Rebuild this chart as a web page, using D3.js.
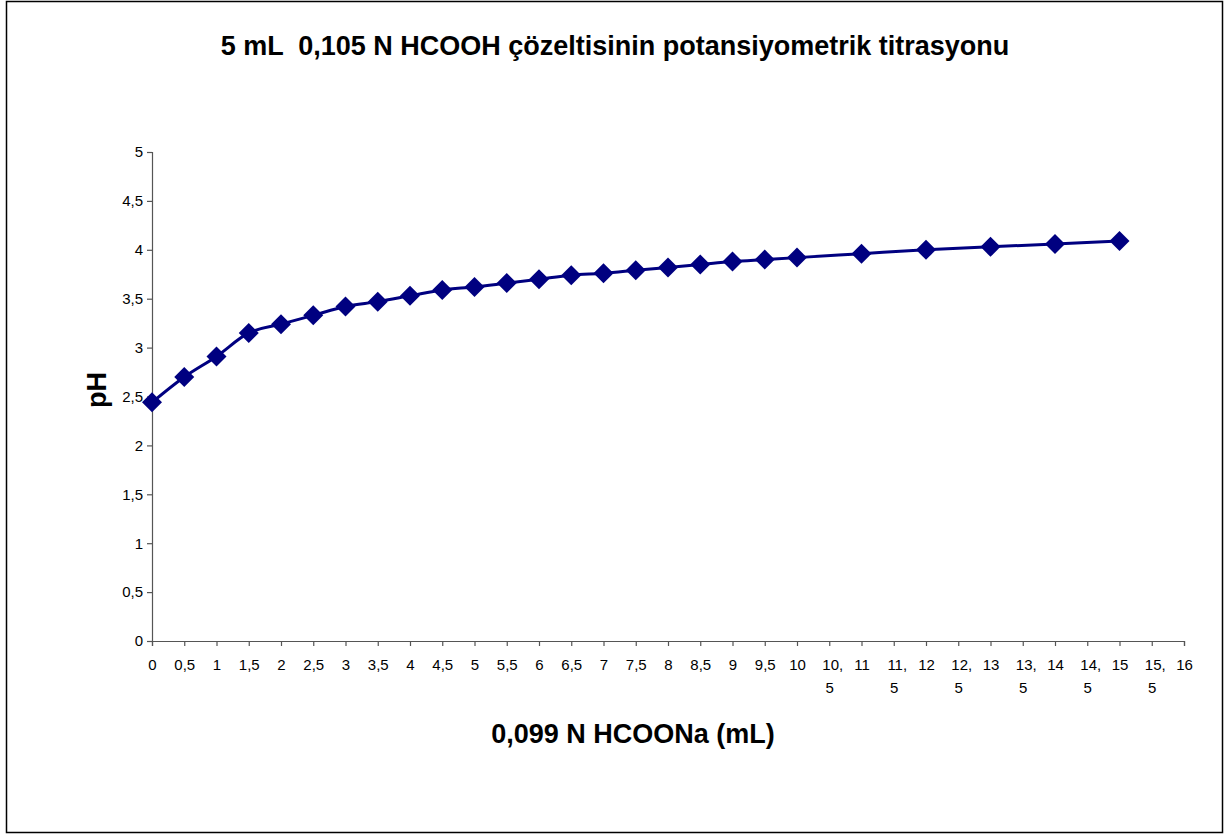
<!DOCTYPE html>
<html>
<head>
<meta charset="utf-8">
<script src="https://cdn.jsdelivr.net/npm/d3@7"></script>
<style>
  html, body { margin: 0; padding: 0; background: #fff; }
  svg { display: block; font-family: Arial, "Liberation Sans", sans-serif; }
  .keep-space { white-space: pre; }
</style>
</head>
<body>
<svg id="chart" width="1227" height="835"></svg>
<script>
// Titrant volume (mL) and measured pH
const volumes = [0, 0.5, 1, 1.5, 2, 2.5, 3, 3.5, 4, 4.5, 5, 5.5, 6, 6.5, 7, 7.5, 8, 8.5, 9, 9.5, 10, 11, 12, 13, 14, 15];
const phValues = [2.44, 2.70, 2.91, 3.15, 3.24, 3.33, 3.42, 3.47, 3.53, 3.59, 3.62, 3.66, 3.70, 3.74, 3.76, 3.79, 3.82, 3.85, 3.88, 3.90, 3.92, 3.96, 4.00, 4.03, 4.06, 4.09];
const xTicks = d3.range(0, 16.01, 0.5);
const yTicks = [0, 0.5, 1, 1.5, 2, 2.5, 3, 3.5, 4, 4.5, 5];

const titleText = "5 mL  0,105 N HCOOH çözeltisinin potansiyometrik titrasyonu";
const xTitle = "0,099 N HCOONa (mL)";
const yTitle = "pH";

const fmt = v => String(v).replace(".", ",");
const FONT = "Arial, 'Liberation Sans', sans-serif";

const svg = d3.select("#chart");

// chart frame
svg.append("rect")
  .attr("x", 6.5).attr("y", 1.5)
  .attr("width", 1216).attr("height", 831)
  .attr("fill", "#fff").attr("stroke", "#000").attr("stroke-width", 1.5);

const plot = { left: 152, right: 1184, top: 152, bottom: 641 };

const x = d3.scaleLinear().domain([0, 16]).range([plot.left, plot.right]);
const y = d3.scaleLinear().domain([0, 5]).range([plot.bottom, plot.top]);

// y axis
const yAxis = svg.append("g")
  .attr("transform", `translate(${plot.left},0)`)
  .call(d3.axisLeft(y).tickValues(yTicks).tickFormat(fmt).tickSize(5).tickPadding(4));
yAxis.select(".domain").attr("stroke", "#555").attr("stroke-width", 1.2);
yAxis.selectAll(".tick line").attr("stroke", "#555").attr("stroke-width", 1.2);
yAxis.selectAll(".tick text").attr("font-size", 15).attr("fill", "#000")
  .attr("font-family", FONT);

// x axis
const xAxis = svg.append("g")
  .attr("transform", `translate(0,${plot.bottom})`)
  .call(d3.axisBottom(x).tickValues(xTicks).tickFormat("").tickSize(5));
xAxis.select(".domain").attr("stroke", "#555").attr("stroke-width", 1.2);
xAxis.selectAll(".tick line").attr("stroke", "#555").attr("stroke-width", 1.2);

// x tick labels; longer ones wrap after the comma
const xl = xAxis.selectAll(".tick").append("text")
  .attr("fill", "#000").attr("font-size", 15)
  .attr("font-family", FONT)
  .attr("text-anchor", "middle")
  .attr("y", 29);
xl.each(function(d) {
  const s = fmt(d);
  const t = d3.select(this);
  if (s.length > 3) {
    const parts = s.split(",");
    t.append("tspan").attr("x", 0).attr("dx", 3).text(parts[0] + ",");
    t.append("tspan").attr("x", 0).attr("dy", 23).text(parts[1]);
  } else {
    t.text(s);
  }
});

// smoothed data line
const pts = volumes.map((v, i) => [v, phValues[i]]);
const line = d3.line()
  .x(d => x(d[0])).y(d => y(d[1]))
  .curve(d3.curveCatmullRom.alpha(0));
svg.append("path")
  .datum(pts)
  .attr("d", line)
  .attr("fill", "none")
  .attr("stroke", "#000080")
  .attr("stroke-width", 3);

// diamond markers
const r = 10;
svg.append("g").selectAll("path")
  .data(pts)
  .join("path")
  .attr("d", d => {
    const cx = x(d[0]), cy = y(d[1]);
    return `M${cx},${cy - r}L${cx + r},${cy}L${cx},${cy + r}L${cx - r},${cy}Z`;
  })
  .attr("fill", "#000080");

// titles
svg.append("text")
  .attr("class", "keep-space")
  .attr("x", 615).attr("y", 55)
  .attr("text-anchor", "middle")
  .attr("font-weight", "bold").attr("font-size", 27)
  .text(titleText);

svg.append("text")
  .attr("x", 633).attr("y", 743)
  .attr("text-anchor", "middle")
  .attr("font-weight", "bold").attr("font-size", 27)
  .text(xTitle);

svg.append("text")
  .attr("transform", "translate(106,390) rotate(-90)")
  .attr("text-anchor", "middle")
  .attr("font-weight", "bold").attr("font-size", 27)
  .text(yTitle);
</script>
</body>
</html>
